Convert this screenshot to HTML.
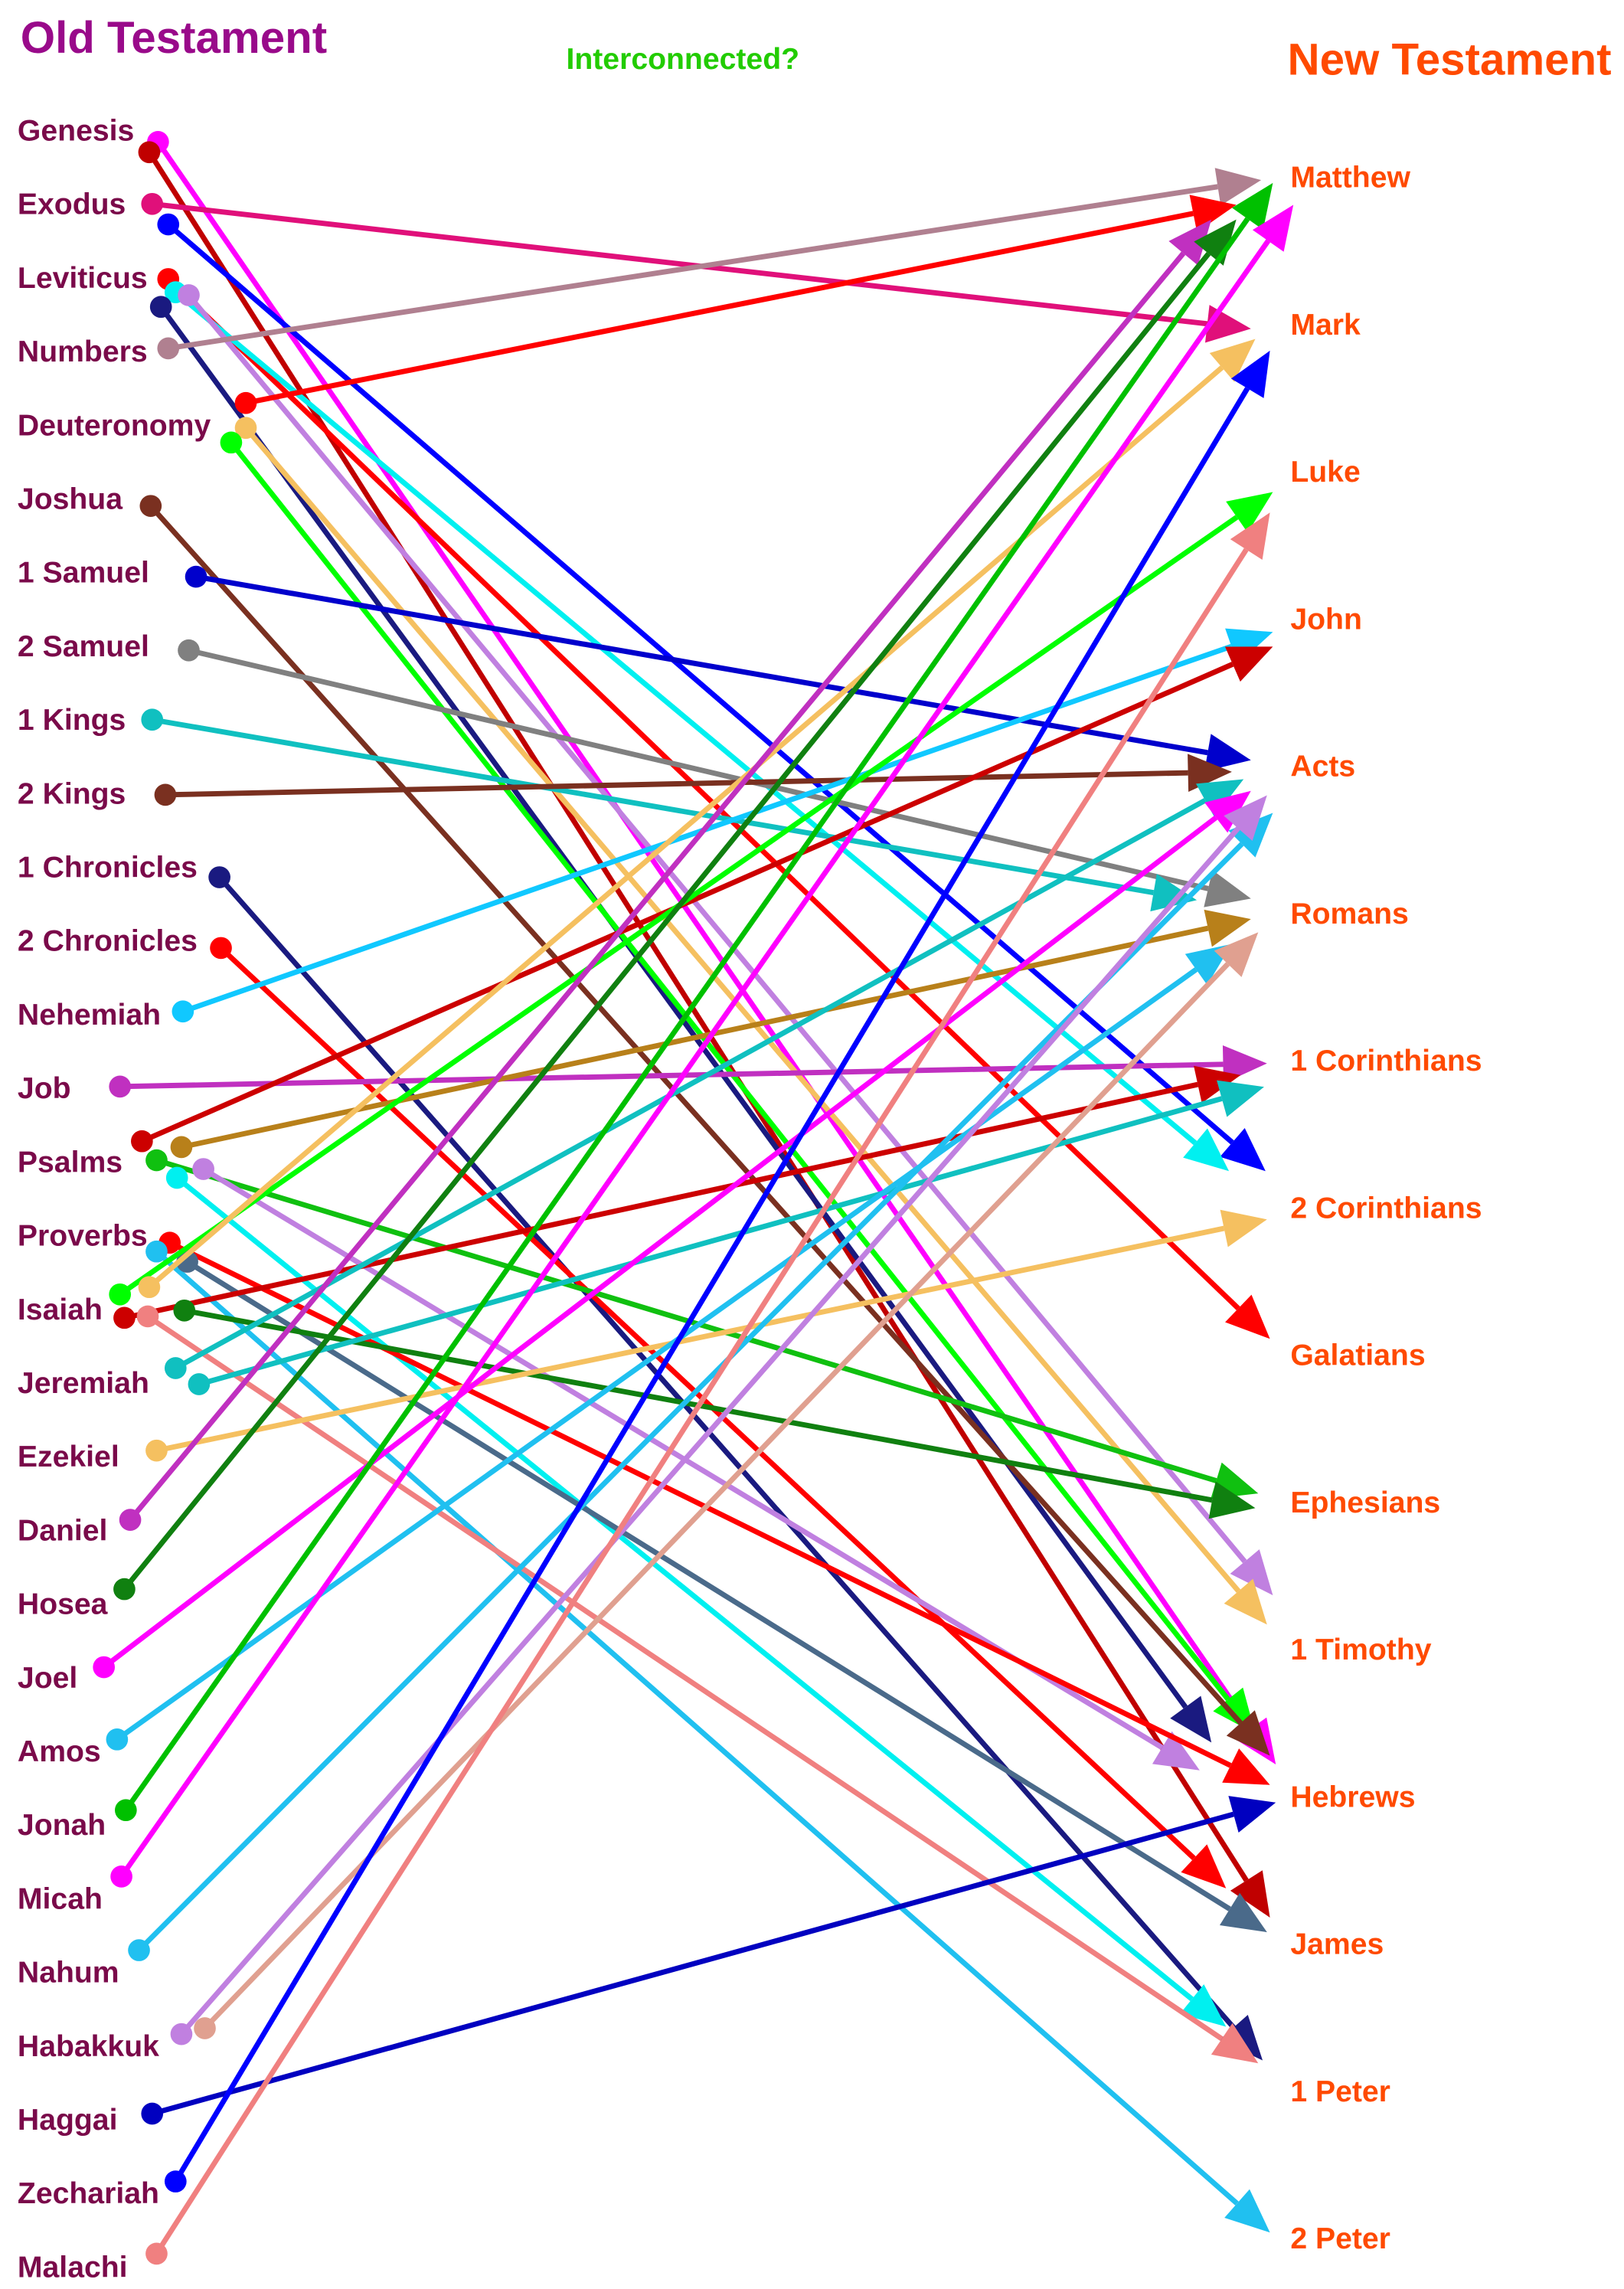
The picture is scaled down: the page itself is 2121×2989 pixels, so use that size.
<!DOCTYPE html>
<html><head><meta charset="utf-8"><style>
html,body{margin:0;padding:0;background:#fff;}
svg{display:block;}
text{font-family:"Liberation Sans",Arial,sans-serif;font-weight:bold;}
</style></head>
<body>
<svg id="chart" width="2121" height="2989" viewBox="0 0 1110 1564" preserveAspectRatio="none" xmlns="http://www.w3.org/2000/svg">
<text x="14" y="36" font-size="30.5" fill="#990a8a">Old Testament</text>
<text x="387" y="47" font-size="20.5" fill="#22cc00">Interconnected?</text>
<text x="880" y="51" font-size="30.5" fill="#ff4a00">New Testament</text>
<g id="links"></g>
<g id="labels"></g>
</svg>
<script>
const otBooks = ["Genesis","Exodus","Leviticus","Numbers","Deuteronomy","Joshua","1 Samuel","2 Samuel","1 Kings","2 Kings","1 Chronicles","2 Chronicles","Nehemiah","Job","Psalms","Proverbs","Isaiah","Jeremiah","Ezekiel","Daniel","Hosea","Joel","Amos","Jonah","Micah","Nahum","Habakkuk","Haggai","Zechariah","Malachi"];
const ntBooks = ["Matthew","Mark","Luke","John","Acts","Romans","1 Corinthians","2 Corinthians","Galatians","Ephesians","1 Timothy","Hebrews","James","1 Peter","2 Peter"];
const linkFrom = ["Genesis","Genesis","Exodus","Exodus","Leviticus","Leviticus","Leviticus","Leviticus","Numbers","Deuteronomy","Deuteronomy","Deuteronomy","Joshua","1 Samuel","2 Samuel","1 Kings","2 Kings","1 Chronicles","2 Chronicles","Nehemiah","Job","Psalms","Psalms","Psalms","Psalms","Psalms","Proverbs","Proverbs","Proverbs","Isaiah","Isaiah","Isaiah","Isaiah","Isaiah","Jeremiah","Jeremiah","Ezekiel","Daniel","Hosea","Joel","Amos","Jonah","Micah","Nahum","Habakkuk","Habakkuk","Haggai","Zechariah","Malachi"];
const linkTo = ["Hebrews","James","Mark","2 Corinthians","Galatians","2 Corinthians","1 Timothy","Hebrews","Matthew","Matthew","1 Timothy","Hebrews","Hebrews","Acts","Romans","Romans","Acts","1 Peter","James","John","1 Corinthians","John","Romans","Ephesians","1 Peter","Hebrews","Hebrews","2 Peter","James","Luke","Mark","1 Corinthians","Ephesians","1 Peter","Acts","1 Corinthians","2 Corinthians","Matthew","Matthew","Acts","Romans","Matthew","Matthew","Acts","Acts","Romans","Hebrews","Mark","Luke"];
const linkColor = ["#ff00ff","#c00000","#e0107a","#0000ff","#ff0000","#00f0f0","#c080e0","#1a1a80","#b08090","#ff0000","#f5c060","#00ff00","#7a3020","#0000cc","#808080","#10c0c0","#7a3020","#1a1a80","#ff0000","#10c8ff","#c030c0","#cc0000","#b8801a","#10c010","#00f0f0","#c080e0","#ff0000","#20c0f0","#4a6a8a","#00ff00","#f5c060","#cc0000","#108010","#f08080","#10c0c0","#10c0c0","#f5c060","#c030c0","#108010","#ff00ff","#20c0f0","#00c000","#ff00ff","#20c0f0","#c080e0","#e0a090","#0000c0","#0000ff","#f08080"];
// layout jitter (display units): dot x, dot y offset, tip x, tip y offset
const dotX = [108,102,104,115,115,120,129,110,115,168,168,158,103,134,129,104,113,150,151,125,82,97,124,107,121,139,116,107,128,82,102,85,126,101,120,136,107,89,85,71,80,86,83,95,124,140,104,120,107];
const dotDY = [8,15,0,14,1,10,12,20,-2,-15,2,12,5,3,3,0,1,7,5,-2,-1,-14,-10,-1,11,5,5,11,18,-10,-15,6,1,5,-10,1,-4,-7,-10,-7,-8,-10,-15,-15,-8,-12,-4,-8,-9];
const tipX = [872,868,855,865,868,840,870,828,862,845,866,858,868,855,855,818,842,863,838,870,866,870,855,860,838,820,868,868,866,870,858,848,858,860,850,864,866,828,845,855,842,870,884,870,866,860,872,868,868];
const tipDY = [-22,-18,3,-25,-11,-25,-37,-37,2,19,-17,-43,-28,-4,-10,-9,4,-21,-38,9,2,19,4,-6,-44,-18,-8,-4,-8,14,10,10,4,-19,9,18,8,29,29,17,21,4,19,32,20,13,4,18,28];

const NS = "http://www.w3.org/2000/svg";
const otY = i => 89 + i * 50.34;
const ntY = j => 121 + j * 100.6;
const links = document.getElementById('links');
const labels = document.getElementById('labels');

otBooks.forEach((b, i) => {
  const t = document.createElementNS(NS, 'text');
  t.setAttribute('x', 12); t.setAttribute('y', otY(i) + 7);
  t.setAttribute('font-size', '20.5'); t.setAttribute('fill', '#7a0a4a');
  t.textContent = b;
  
  
  labels.appendChild(t);
});
ntBooks.forEach((b, j) => {
  const t = document.createElementNS(NS, 'text');
  t.setAttribute('x', 882); t.setAttribute('y', ntY(j) + 7);
  t.setAttribute('font-size', '20.5'); t.setAttribute('fill', '#ff4a00');
  t.textContent = b;
  
  
  labels.appendChild(t);
});

linkFrom.forEach((f, k) => {
  const i = otBooks.indexOf(f), j = ntBooks.indexOf(linkTo[k]);
  const x1 = dotX[k], y1 = otY(i) + dotDY[k];
  const x2 = tipX[k], y2 = ntY(j) + tipDY[k];
  const dx = x2 - x1, dy = y2 - y1, L = Math.hypot(dx, dy);
  const ux = dx / L, uy = dy / L, len = 30, hw = 13;
  const bx = x2 - ux * len, by = y2 - uy * len;
  const c = linkColor[k];
  const g = document.createElementNS(NS, 'g');
  
  
  const ln = document.createElementNS(NS, 'line');
  ln.setAttribute('x1', x1); ln.setAttribute('y1', y1);
  ln.setAttribute('x2', bx); ln.setAttribute('y2', by);
  ln.setAttribute('stroke', c); ln.setAttribute('stroke-width', '3.6');
  
  
  g.appendChild(ln);
  const ar = document.createElementNS(NS, 'polygon');
  ar.setAttribute('points', `${x2},${y2} ${bx - uy * hw},${by + ux * hw} ${bx + uy * hw},${by - ux * hw}`);
  ar.setAttribute('fill', c);
  
  
  g.appendChild(ar);
  const dt = document.createElementNS(NS, 'circle');
  dt.setAttribute('cx', x1); dt.setAttribute('cy', y1); dt.setAttribute('r', '7.5');
  dt.setAttribute('fill', c);
  
  
  g.appendChild(dt);
  links.appendChild(g);
});
</script>
</body></html>
